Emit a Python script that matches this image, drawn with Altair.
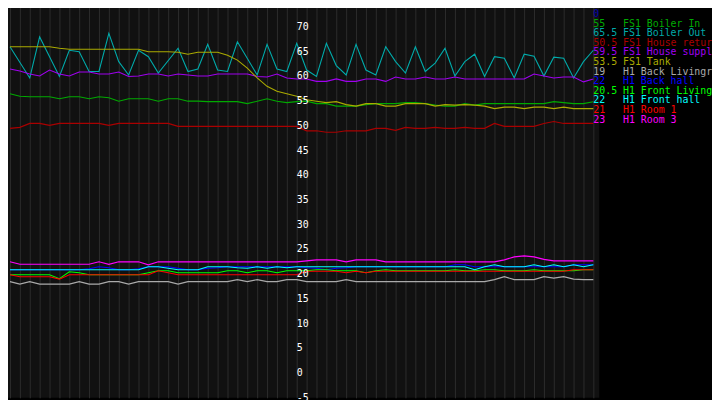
import altair as alt
import pandas as pd

# ---- data -------------------------------------------------------------
T = list(range(1, 61))

tank = [66, 66, 66, 66, 66, 65.7, 65.5, 65.5, 65.5, 65.5,
        65.5, 65.5, 65.5, 65.5, 65, 65, 65, 64.9, 64.5, 64.9,
        64.9, 64.9, 64.3, 63.3, 61.7, 59.7, 58, 57, 56.5, 56,
        55.3, 55, 54.7, 54.9, 54.3, 54, 54.5, 54.5, 54, 54,
        54.5, 54.5, 54.5, 54, 54.3, 54.2, 54.3, 54.2, 54, 53.5,
        53.8, 53.8, 53.5, 53.8, 53.8, 53.5, 53.8, 53.5, 53.5, 53.5]

house_supply = [61.5, 61.1, 60.5, 60.1, 61.3, 60.5, 60.1, 60.9, 60.9, 60.5,
                60.5, 60.9, 60, 60.1, 60.5, 60.5, 60.1, 60.5, 60.3, 60.1,
                60.1, 60.5, 60.5, 60.5, 60.5, 60, 59.9, 60.5, 59.7, 59.5,
                59.5, 59, 59, 59.5, 59, 59, 59.5, 59.5, 59, 59.9,
                59.5, 59.5, 59.9, 59.5, 59.5, 59.9, 59.5, 59.5, 59.5, 59.5,
                59.5, 59.5, 59.5, 60.5, 60.1, 59.7, 59.9, 59.9, 58.9, 59.5]

boiler_in = [56.5, 56, 55.9, 55.9, 55.9, 55.5, 55.9, 55.9, 55.5, 55.9,
             55.7, 55, 55.5, 55.5, 55.5, 55, 55.5, 55.5, 55, 55,
             54.9, 54.9, 54.9, 54.9, 54.5, 55, 55.5, 55, 54.7, 54.9,
             55, 54.5, 54.5, 54, 54, 54, 54.3, 54.5, 54.5, 54.5,
             54.7, 54.7, 54.5, 54.2, 54, 54, 54.5, 54.2, 54.5, 54.5,
             54.5, 54.5, 54.5, 54.5, 54.5, 54.9, 54.7, 54.5, 54.5, 54.9]

house_return = [49.5, 49.7, 50.5, 50.5, 50.1, 50.5, 50.5, 50.5, 50.5, 50.5,
                50.1, 50.5, 50.5, 50.5, 50.5, 50.5, 50.5, 49.9, 49.9, 49.9,
                49.9, 49.9, 49.9, 49.9, 49.9, 49.9, 49.9, 49.9, 49.9, 49.9,
                49, 49, 48.7, 48.7, 49, 49, 49, 49.5, 49.5, 49.1,
                49.7, 49.5, 49.5, 49.7, 49.5, 49.5, 49.7, 49.5, 49.5, 50.5,
                49.9, 49.9, 49.9, 49.9, 50.5, 50.9, 50.5, 50.5, 50.5, 50.5]

boiler_out_t = [1, 3, 4, 6, 7, 8, 9, 10, 11, 12,
                13, 14, 15, 16, 18, 19, 20, 21, 22, 23,
                24, 26, 27, 28, 29, 30, 31, 32, 33, 34,
                35, 36, 37, 38, 39, 40, 41, 42, 43, 44,
                45, 46, 47, 48, 49, 50, 51, 52, 53, 54, 55, 56, 57, 58, 59, 60]
boiler_out = [66, 59.7, 68, 60, 65.3, 65, 61, 61, 68.7, 63,
              60.3, 65.3, 64, 60.7, 65.7, 61, 61.5, 66.5, 61.3, 61,
              67, 60.3, 66.5, 61.5, 61, 66.7, 61.3, 60, 66.7, 62.2,
              60.3, 66.5, 61.3, 60.3, 66, 63, 60.7, 66, 61, 62.7,
              65.7, 60.1, 63, 64.5, 60, 64, 63.7, 59.7, 64.5, 64.1, 60.1, 63.9, 63.7, 59.7, 63, 65.3]

back_living = [18.5, 18, 18.5, 18, 18, 18, 18, 18.5, 18, 18,
               18.5, 18.5, 18, 18.5, 18.5, 18.5, 18.5, 18, 18.5, 18.5,
               18.5, 18.5, 18.5, 18.9, 18.5, 18.9, 18.5, 18.5, 18.9, 18.9,
               18.5, 18.5, 18.5, 18.5, 18.9, 18.5, 18.5, 18.5, 18.5, 18.5,
               18.5, 18.5, 18.5, 18.5, 18.5, 18.5, 18.5, 18.5, 18.5, 18.9,
               19.5, 18.9, 18.9, 18.9, 19.5, 19.2, 19.5, 19, 18.9, 18.9]

back_hall = [20.9, 20.9, 20.9, 20.9, 20.9, 20.9, 20.9, 20.9, 21.1, 21.5,
             21.3, 20.9, 20.9, 21.1, 21.5, 21.5, 21.5, 21.2, 20.9, 20.9,
             21.2, 21.3, 21.5, 21.5, 21.5, 21.5, 21.5, 21.5, 21.5, 21.5,
             21.3, 21.2, 20.9, 21.2, 21.3, 21.5, 21.5, 21.5, 21.5, 21.5,
             21.5, 21.5, 21.5, 21.5, 21.5, 21.9, 21.9, 21.5, 21.5, 21.5,
             21.5, 21.5, 21.5, 21.5, 21.5, 21.5, 21.5, 21.9, 21.9, 21.9]

front_living = [19.9, 19.9, 19.9, 19.9, 19.9, 19.1, 20.5, 20.3, 19.9, 19.9,
                19.9, 19.9, 19.9, 19.9, 20.3, 20.7, 20.7, 20.3, 20.3, 20.3,
                20.3, 20.3, 20.7, 20.7, 20.3, 20.7, 20.7, 20.3, 20.7, 20.7,
                20.7, 20.9, 20.9, 20.7, 20.7, 20.7, 20.3, 20.7, 20.9, 20.7,
                20.7, 20.7, 20.7, 20.7, 20.7, 20.9, 20.7, 20.7, 20.9, 20.9,
                20.7, 20.7, 20.7, 20.9, 20.7, 20.7, 20.7, 20.7, 20.9, 20.9]

front_hall = [20.9, 20.9, 20.9, 20.9, 20.9, 20.9, 20.9, 20.9, 20.9, 20.9,
              20.9, 20.9, 20.9, 20.9, 21.5, 21.5, 21.2, 20.9, 20.9, 20.9,
              21.5, 21.5, 21.5, 21.3, 21.2, 21.5, 21.2, 21.5, 21.3, 21.5,
              21.5, 21.5, 21.5, 21.5, 21.5, 21.5, 21.5, 21.5, 21.5, 21.5,
              21.5, 21.5, 21.5, 21.5, 21.5, 21.5, 21.5, 20.9, 21.5, 21.9,
              21.5, 21.5, 21.5, 21.9, 21.5, 21.9, 21.5, 21.9, 21.5, 21.9]

room1 = [19.9, 19.5, 19.5, 19.5, 19.5, 19, 19.9, 19.9, 19.9, 19.9,
         19.9, 19.9, 19.9, 19.9, 19.9, 20.7, 20.3, 19.9, 19.9, 19.9,
         19.9, 19.9, 19.9, 19.9, 19.9, 19.9, 19.9, 19.9, 19.9, 19.9,
         20.6, 20.6, 20.6, 20.6, 20.3, 20.6, 20.3, 20.6, 20.6, 20.6,
         20.6, 20.6, 20.6, 20.6, 20.6, 20.6, 20.6, 20.6, 20.6, 20.6,
         20.6, 20.6, 20.6, 20.6, 20.6, 20.6, 20.6, 20.9, 20.9, 20.9]

room3 = [22.5, 22, 22, 22, 22, 22, 22, 22, 22, 22.5,
         22, 22.5, 22.5, 22.5, 21.9, 22.5, 22.5, 22.5, 22.5, 22.5,
         22.5, 22.5, 22.5, 22.5, 22.5, 22.5, 22.5, 22.5, 22.5, 22.5,
         22.7, 22.9, 22.9, 22.9, 22.5, 22.9, 22.9, 22.9, 22.5, 22.5,
         22.5, 22.5, 22.5, 22.5, 22.5, 22.5, 22.5, 22.5, 22.5, 22.5,
         22.9, 23.5, 23.7, 23.5, 23, 22.7, 22.7, 22.7, 22.7, 22.7]

legend_values = ["0", "55", "65.5", "50.5", "59.5", "53.5", "19", "22", "20.5", "22", "21", "23"]
legend_names = ["", "FS1 Boiler In", "FS1 Boiler Out", "FS1 House return", "FS1 House supply",
                "FS1 Tank", "H1 Back Livingroom", "H1 Back hall", "H1 Front Livingroom",
                "H1 Front hall", "H1 Room 1", "H1 Room 3"]
legend_colors = ["#0000aa", "#00aa00", "#00aaaa", "#aa0000", "#a000f0", "#aaaa00",
                 "#aaaaaa", "#0000ff", "#00ff00", "#00ffff", "#ff0000", "#ff00ff"]

y_tick_labels = list(range(-5, 80, 5))
y_grid = list(range(-5, 76))
x_grid = list(range(0, 61))

# ---- chart -------------------------------------------------------------
series = [
    (legend_names[1], T, boiler_in),
    (legend_names[2], boiler_out_t, boiler_out),
    (legend_names[3], T, house_return),
    (legend_names[4], T, house_supply),
    (legend_names[5], T, tank),
    (legend_names[6], T, back_living),
    (legend_names[7], T, back_hall),
    (legend_names[8], T, front_living),
    (legend_names[9], T, front_hall),
    (legend_names[10], T, room1),
    (legend_names[11], T, room3),
]

x_enc = alt.X("t:Q", scale=alt.Scale(domain=[0, 60.6], nice=False, zero=False),
              axis=alt.Axis(values=x_grid, grid=True, labels=False, ticks=False, domain=False,
                            title=None, gridColor="#2d2d2d", gridWidth=1))
y_enc = alt.Y("v:Q", scale=alt.Scale(domain=[-5, 75], nice=False, zero=False),
              axis=alt.Axis(values=y_grid, grid=True, labels=False, ticks=False, domain=False,
                            title=None, gridWidth=1,
                            gridColor={"condition": {"test": "datum.value % 5 === 0", "value": "#474747"},
                                       "value": "#2d2d2d"}))

layers = []
for i, (name, ts, vals) in enumerate(series):
    d = pd.DataFrame({"t": ts, "v": vals})
    layers.append(
        alt.Chart(d).mark_line(strokeWidth=1.1, color=legend_colors[i + 1]).encode(x=x_enc, y=y_enc)
    )

lab_df = pd.DataFrame({"v": y_tick_labels, "txt": [str(v) for v in y_tick_labels]})
labels = alt.Chart(lab_df).mark_text(
    font="DejaVu Sans Mono", fontSize=10, align="left", baseline="middle", color="#ffffff"
).encode(x=alt.value(300), y=alt.Y("v:Q", scale=alt.Scale(domain=[-5, 75], nice=False, zero=False), axis=None),
         text="txt:N")

leg_df = pd.DataFrame({"i": list(range(len(legend_values))), "val": legend_values,
                       "name": legend_names, "col": legend_colors})
leg_base = alt.Chart(leg_df).transform_calculate(py="12 + datum.i * 9.7")
leg_vals = leg_base.mark_text(font="DejaVu Sans Mono", fontSize=10, align="left", baseline="middle").encode(
    x=alt.value(600), y=alt.Y("py:Q", scale=None), text="val:N", color=alt.Color("col:N", scale=None))
leg_names = leg_base.mark_text(font="DejaVu Sans Mono", fontSize=10, align="left", baseline="middle").encode(
    x=alt.value(630), y=alt.Y("py:Q", scale=None), text="name:N", color=alt.Color("col:N", scale=None))

chart = alt.layer(*layers, labels, leg_vals, leg_names).properties(
    width=606, height=400,
    padding={"left": -8, "top": -8, "right": 114, "bottom": 0},
    autosize=alt.AutoSizeParams(type="none"),
    background="#000000",
).configure_view(fill="#111111", stroke=None)

chart.save("out.html", embed_options={"renderer": "svg", "actions": False})
